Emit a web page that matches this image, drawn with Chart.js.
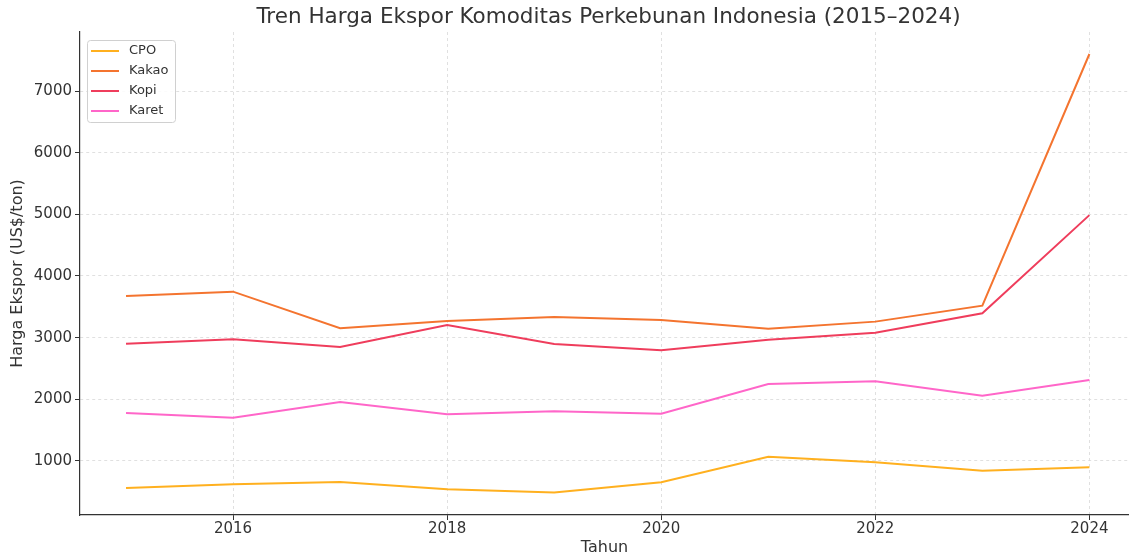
<!DOCTYPE html>
<html>
<head>
<meta charset="utf-8">
<script src="https://cdn.jsdelivr.net/npm/chart.js@4"></script>
<style>
  html, body { margin: 0; padding: 0; background: #fff; }
  #wrap { width: 1129px; height: 557px; }
</style>
</head>
<body>
<div id="wrap"><canvas id="myChart"></canvas></div>
<script>
// data
const years = [2015, 2016, 2017, 2018, 2019, 2020, 2021, 2022, 2023, 2024];
const cpo = [560, 622, 660, 541, 487, 655, 1070, 980, 843, 898];
const kakao = [3676, 3746, 3152, 3271, 3336, 3287, 3146, 3260, 3519, 7600];
const kopi = [2903, 2974, 2849, 3206, 2898, 2795, 2968, 3081, 3395, 4987];
const karet = [1779, 1703, 1957, 1757, 1806, 1768, 2249, 2293, 2060, 2314];
const xTicks = [2016, 2018, 2020, 2022, 2024];
const yTicks = [1000, 2000, 3000, 4000, 5000, 6000, 7000];
const seriesNames = ["CPO", "Kakao", "Kopi", "Karet"];
const seriesColors = ["#ffb01f", "#f4742f", "#ef3d5c", "#ff66c9"];
const chartTitle = "Tren Harga Ekspor Komoditas Perkebunan Indonesia (2015–2024)";

const FONT = "'DejaVu Sans', sans-serif";
const TEXT = "#333333";

function toPoints(values) {
  return years.map((y, i) => ({ x: y, y: values[i] }));
}

// title centred over the plot area + legend box in the top-left corner
const titleAndLegend = {
  id: "titleAndLegend",
  afterDraw(chart) {
    const ctx = chart.ctx;
    const area = chart.chartArea;
    ctx.save();
    ctx.fillStyle = TEXT;
    ctx.font = "21.5px " + FONT;
    ctx.textAlign = "center";
    ctx.textBaseline = "middle";
    ctx.fillText(chartTitle, (area.left + area.right) / 2 + 4, 17);

    // legend
    const x0 = area.left + 7, y0 = area.top + 8;
    const w = 88, h = 82;
    ctx.fillStyle = "rgba(255,255,255,0.85)";
    ctx.strokeStyle = "#d0d0d0";
    ctx.lineWidth = 1;
    ctx.beginPath();
    ctx.roundRect(x0 + 0.5, y0 + 0.5, w, h, 3);
    ctx.fill();
    ctx.stroke();
    ctx.font = "13px " + FONT;
    ctx.textAlign = "left";
    chart.data.datasets.forEach((ds, i) => {
      const cy = y0 + 11 + i * 20;
      ctx.strokeStyle = ds.borderColor;
      ctx.lineWidth = 2;
      ctx.beginPath();
      ctx.moveTo(x0 + 4, cy);
      ctx.lineTo(x0 + 32, cy);
      ctx.stroke();
      ctx.fillStyle = TEXT;
      ctx.fillText(ds.label, x0 + 42, cy);
    });
    ctx.restore();
  },
};

function fixedTicks(list) {
  return (scale) => { scale.ticks = list.map((v) => ({ value: v })); };
}

const ctx = document.getElementById("myChart").getContext("2d");
const myChart = new Chart(ctx, {
  type: "line",
  data: {
    datasets: [cpo, kakao, kopi, karet].map((vals, i) => ({
      label: seriesNames[i],
      data: toPoints(vals),
      borderColor: seriesColors[i],
      backgroundColor: seriesColors[i],
      borderWidth: 2,
      pointRadius: 0,
      tension: 0,
      fill: false,
    })),
  },
  options: {
    responsive: true,
    maintainAspectRatio: false,
    animation: false,
    layout: { padding: { top: 32, right: 0, left: 0, bottom: 0 } },
    plugins: {
      legend: { display: false },
      title: { display: false },
      tooltip: { enabled: false },
    },
    scales: {
      x: {
        type: "linear",
        min: 2014.57,
        max: 2024.37,
        afterBuildTicks: fixedTicks(xTicks),
        afterFit(scale) { scale.height = 42; },
        ticks: {
          color: TEXT,
          font: { family: FONT, size: 15 },
          padding: 0,
          maxRotation: 0,
          autoSkip: false,
          callback: (v) => String(v),
        },
        grid: {
          color: "#d9d9d9",
          lineWidth: 0.8,
          tickColor: "#333",
          tickLength: 5,
          tickWidth: 1,
        },
        border: { color: "#333", width: 1.2, dash: [3, 3] },
        title: {
          display: true,
          text: "Tahun",
          color: TEXT,
          font: { family: FONT, size: 16 },
          padding: { top: 0, bottom: 0 },
        },
      },
      y: {
        min: 124,
        max: 7957,
        afterBuildTicks: fixedTicks(yTicks),
        afterFit(scale) { scale.width = 80; },
        ticks: {
          color: TEXT,
          font: { family: FONT, size: 15 },
          padding: 3,
          autoSkip: false,
          callback: (v) => String(v),
        },
        grid: {
          color: "#d9d9d9",
          lineWidth: 0.8,
          tickColor: "#333",
          tickLength: 5,
          tickWidth: 1,
        },
        border: { color: "#333", width: 1.2, dash: [3, 3] },
        title: {
          display: true,
          text: "Harga Ekspor (US$/ton)",
          color: TEXT,
          font: { family: FONT, size: 16 },
          padding: { top: 8, bottom: 4 },
        },
      },
    },
  },
  plugins: [titleAndLegend],
});
</script>
</body>
</html>
